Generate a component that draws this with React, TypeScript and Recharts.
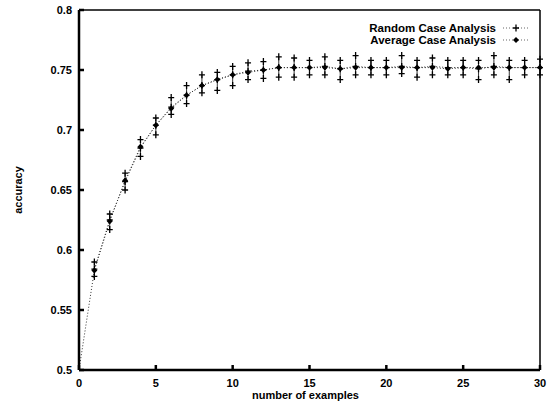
import { ComposedChart, Line, Scatter, XAxis, YAxis, ErrorBar, Label } from 'recharts';

// number of training examples
const examples = [0, 1, 2, 3, 4, 5, 6, 7, 8, 9, 10, 11, 12, 13, 14, 15, 16, 17, 18, 19, 20, 21, 22, 23, 24, 25, 26, 27, 28, 29, 30];

// average case analysis (x = 0..30)
const avgCurve = [
  0.5, 0.583, 0.624, 0.658, 0.686, 0.704, 0.718, 0.729, 0.737, 0.742, 0.746,
  0.748, 0.75, 0.752, 0.752, 0.752, 0.752, 0.751, 0.752, 0.752, 0.752,
  0.752, 0.752, 0.752, 0.751, 0.752, 0.752, 0.752, 0.752, 0.752, 0.752,
];

// random case analysis (x = 1..30): mean and spread
const randomMean = [
  0.584, 0.625, 0.657, 0.685, 0.704, 0.719, 0.729, 0.737, 0.742, 0.746,
  0.749, 0.75, 0.752, 0.752, 0.752, 0.753, 0.751, 0.753, 0.752, 0.752,
  0.753, 0.752, 0.753, 0.752, 0.752, 0.751, 0.753, 0.752, 0.752, 0.752,
];
const randomUpper = [
  0.59, 0.63, 0.664, 0.692, 0.71, 0.727, 0.737, 0.746, 0.748, 0.753,
  0.756, 0.757, 0.761, 0.76, 0.758, 0.761, 0.758, 0.762, 0.758, 0.758,
  0.762, 0.758, 0.76, 0.758, 0.758, 0.758, 0.762, 0.758, 0.758, 0.759,
];
const randomLower = [
  0.578, 0.617, 0.65, 0.678, 0.696, 0.713, 0.722, 0.731, 0.733, 0.737,
  0.742, 0.743, 0.744, 0.744, 0.746, 0.746, 0.742, 0.746, 0.746, 0.746,
  0.747, 0.744, 0.746, 0.746, 0.746, 0.742, 0.746, 0.742, 0.746, 0.746,
];

const xTicks = [0, 5, 10, 15, 20, 25, 30];
const yTicks = [0.5, 0.55, 0.6, 0.65, 0.7, 0.75, 0.8];
const seriesNames = ['Random Case Analysis', 'Average Case Analysis'];

const rows = examples.map((x, i) => ({
  x,
  avg: avgCurve[i],
  mean: i > 0 ? randomMean[i - 1] : undefined,
  hi: i > 0 ? randomUpper[i - 1] : undefined,
  lo: i > 0 ? randomLower[i - 1] : undefined,
  err: i > 0 ? [randomMean[i - 1] - randomLower[i - 1], randomUpper[i - 1] - randomMean[i - 1]] : undefined,
}));
const pointRows = rows.slice(1);

const font = '"Liberation Sans", Arial, sans-serif';
const tickStyle = { fontSize: 11, fontWeight: 700, fill: '#000', fontFamily: font };

const Plus = (props: any) => {
  const { cx, cy } = props;
  if (cx == null || cy == null) return null;
  return (
    <path
      d={`M${cx - 3},${cy}h6M${cx},${cy - 3.5}v7`}
      stroke="#000"
      strokeWidth={1.3}
      fill="none"
    />
  );
};

const Diamond = (props: any) => {
  const { cx, cy } = props;
  if (cx == null || cy == null) return null;
  return <path d={`M${cx},${cy - 3}L${cx + 3},${cy}L${cx},${cy + 3}L${cx - 3},${cy}Z`} fill="#000" />;
};

function LegendBox() {
  return (
    <div
      style={{
        position: 'absolute',
        top: 22,
        right: 21,
        fontFamily: font,
        fontSize: 11.5,
        fontWeight: 700,
        lineHeight: '12px',
        color: '#000',
      }}
    >
      {seriesNames.map((name, i) => (
        <div key={name} style={{ display: 'flex', justifyContent: 'flex-end', alignItems: 'center', height: 12 }}>
          <span>{name}</span>
          <svg width={28} height={10} style={{ marginLeft: 5 }}>
            <line x1={2} y1={5} x2={28} y2={5} stroke="#666" strokeWidth={1} strokeDasharray="1 2" />
            {i === 0 ? <Plus cx={15} cy={5} /> : <Diamond cx={15} cy={5} />}
          </svg>
        </div>
      ))}
    </div>
  );
}

export default function App() {
  return (
    <div style={{ position: 'absolute', left: 0, top: 0, width: 550, height: 403, background: '#fff' }}>
      <ComposedChart
        width={550}
        height={403}
        data={rows}
        margin={{ top: 9, right: 9, bottom: 0, left: 0 }}
      >
        <XAxis
          xAxisId="b"
          dataKey="x"
          type="number"
          domain={[0, 30]}
          ticks={xTicks}
          orientation="bottom"
          height={33}
          stroke="#000"
          strokeWidth={2.5}
          tickSize={-5}
          tickMargin={14}
          tick={tickStyle}
          interval={0}
        >
          <Label
            value="number of examples"
            position="insideBottom"
            offset={4}
            dx={-4}
            style={{ fontSize: 11, fontWeight: 700, fill: '#000', fontFamily: font }}
          />
        </XAxis>
        <XAxis
          xAxisId="t"
          dataKey="x"
          type="number"
          domain={[0, 30]}
          ticks={xTicks}
          orientation="top"
          height={1}
          stroke="#000"
          strokeWidth={1.5}
          tickSize={-5}
          tick={false}
        />
        <YAxis
          yAxisId="l"
          type="number"
          domain={[0.5, 0.8]}
          ticks={yTicks}
          width={79}
          stroke="#000"
          strokeWidth={2.5}
          tickSize={-5}
          tickMargin={12}
          tick={tickStyle}
          tickFormatter={(v: number) => String(v)}
          interval={0}
        >
          <Label
            value="accuracy"
            angle={-90}
            position="insideLeft"
            offset={18}
            style={{ fontSize: 11, fontWeight: 700, fill: '#000', fontFamily: font, textAnchor: 'middle' }}
          />
        </YAxis>
        <YAxis
          yAxisId="r"
          type="number"
          orientation="right"
          domain={[0.5, 0.8]}
          ticks={yTicks}
          width={1}
          stroke="#000"
          strokeWidth={1.5}
          tickSize={-5}
          tick={false}
        />
        <Line
          xAxisId="b"
          yAxisId="l"
          dataKey="avg"
          type="linear"
          stroke="#333"
          strokeWidth={1}
          strokeDasharray="1 2"
          dot={false}
          activeDot={false}
          isAnimationActive={false}
        />
        <Line
          xAxisId="b"
          yAxisId="l"
          dataKey="mean"
          type="linear"
          stroke="#333"
          strokeWidth={1}
          strokeDasharray="1 2"
          dot={false}
          activeDot={false}
          connectNulls
          isAnimationActive={false}
        />
        <Scatter
          xAxisId="b"
          yAxisId="l"
          data={pointRows}
          dataKey="mean"
          shape={Plus}
          isAnimationActive={false}
        >
          <ErrorBar dataKey="err" direction="y" width={0} stroke="#000" strokeWidth={0.8} />
        </Scatter>
        <Scatter xAxisId="b" yAxisId="l" data={pointRows} dataKey="hi" shape={Plus} isAnimationActive={false} />
        <Scatter xAxisId="b" yAxisId="l" data={pointRows} dataKey="lo" shape={Plus} isAnimationActive={false} />
        <Scatter
          xAxisId="b"
          yAxisId="l"
          data={rows.slice(1)}
          dataKey="avg"
          shape={Diamond}
          isAnimationActive={false}
        />
      </ComposedChart>
      <LegendBox />
    </div>
  );
}
